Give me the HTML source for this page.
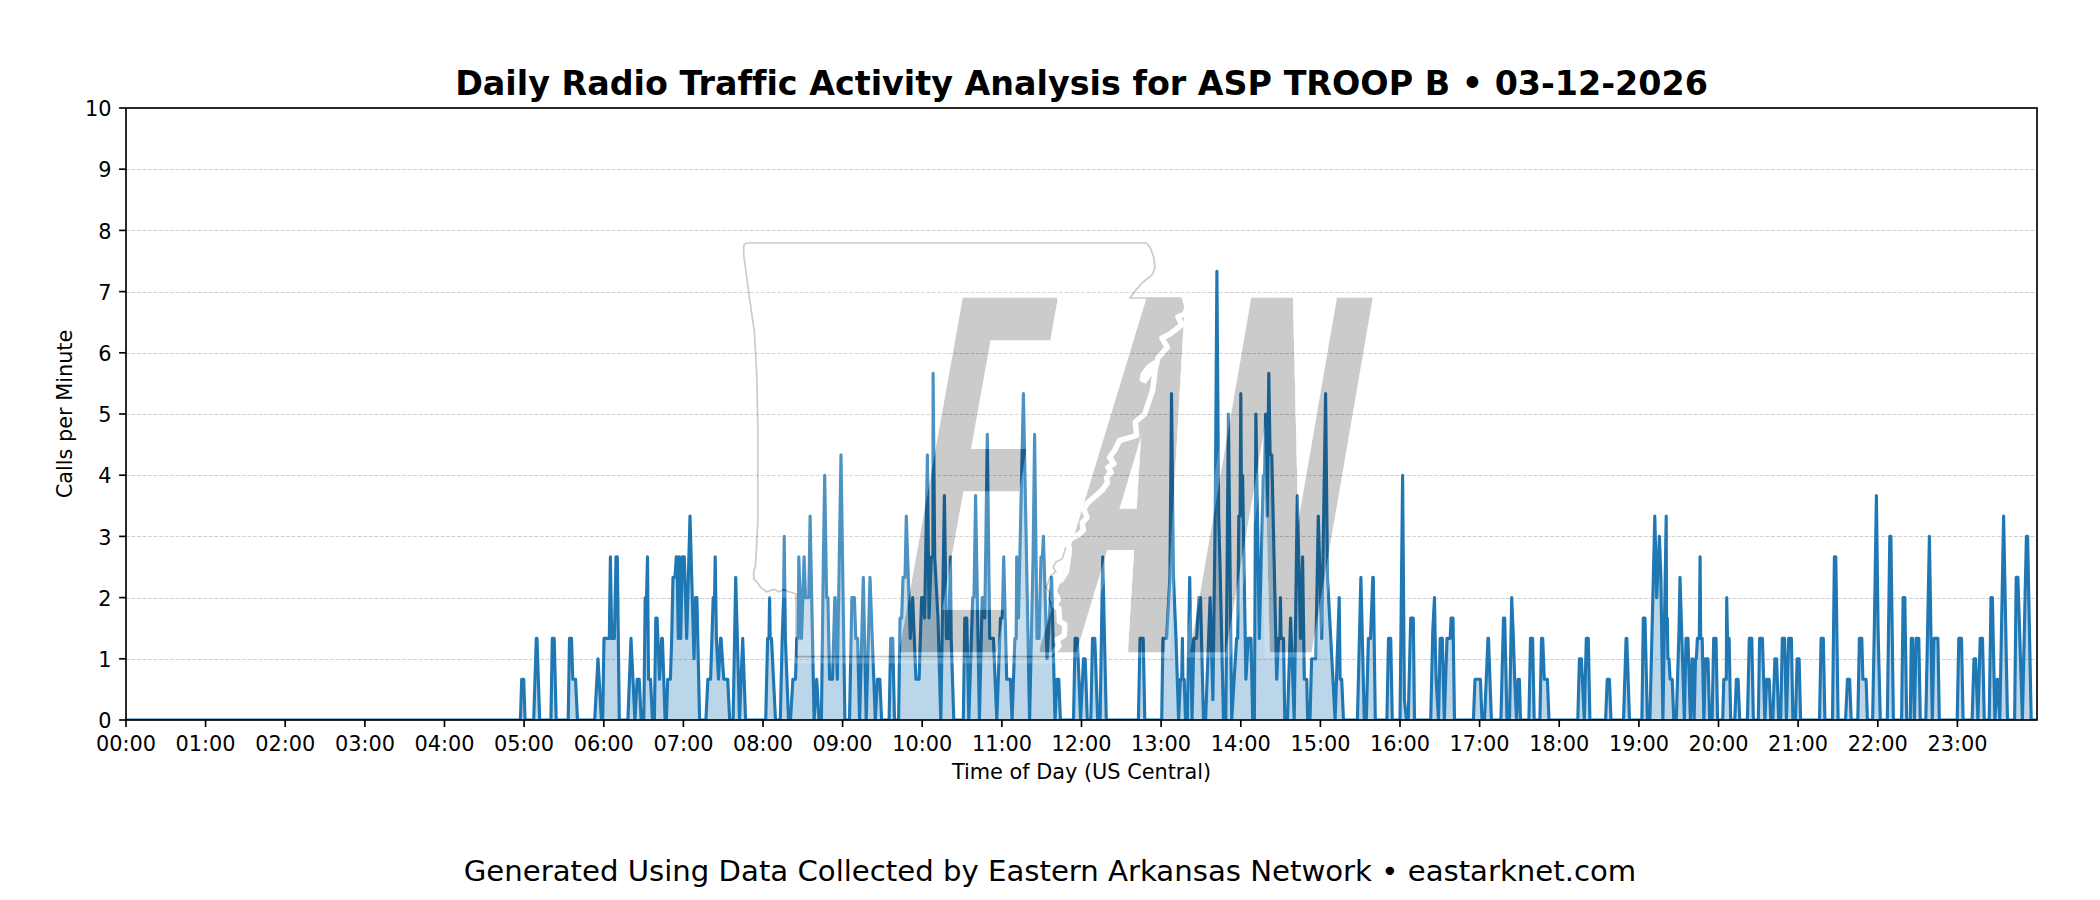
<!DOCTYPE html>
<html lang="en"><head><meta charset="utf-8"><title>Daily Radio Traffic Activity Analysis</title>
<style>
html,body{margin:0;padding:0;background:#fff}
body{width:2100px;height:900px;overflow:hidden}
svg{display:block}
text{font-variant-ligatures:none;font-family:"DejaVu Sans","Liberation Sans",sans-serif;fill:#000}
.tk text{font-size:20.83px}
</style></head><body>
<svg width="2100" height="900" viewBox="0 0 2100 900">
<rect width="2100" height="900" fill="#fff"/>
<g stroke="#b0b0b0" stroke-width="1.04" stroke-dasharray="3.85 1.67" opacity="0.6" fill="none"><line x1="126" x2="2037" y1="659.5" y2="659.5"/><line x1="126" x2="2037" y1="598.5" y2="598.5"/><line x1="126" x2="2037" y1="536.5" y2="536.5"/><line x1="126" x2="2037" y1="475.5" y2="475.5"/><line x1="126" x2="2037" y1="414.5" y2="414.5"/><line x1="126" x2="2037" y1="353.5" y2="353.5"/><line x1="126" x2="2037" y1="292.5" y2="292.5"/><line x1="126" x2="2037" y1="230.5" y2="230.5"/><line x1="126" x2="2037" y1="169.5" y2="169.5"/></g>
<clipPath id="ax"><rect x="126" y="108" width="1911" height="612"/></clipPath>
<g clip-path="url(#ax)">
<polygon points="126.0,720.0 126.0,720.0 520.4,720.0 521.7,679.2 523.7,679.2 525.1,720.0 533.7,720.0 536.3,638.4 537.0,638.4 539.7,720.0 550.9,720.0 552.3,638.4 554.2,638.4 556.2,720.0 568.2,720.0 569.5,638.4 571.5,638.4 572.8,679.2 575.5,679.2 577.5,720.0 594.7,720.0 598.0,658.8 601.4,720.0 602.7,720.0 604.0,638.4 609.3,638.4 610.4,556.8 611.7,638.4 614.4,638.4 616.0,556.8 617.3,556.8 619.3,720.0 627.9,720.0 631.0,638.4 634.9,720.0 637.2,679.2 639.2,679.2 641.2,720.0 643.8,720.0 645.2,597.6 646.5,597.6 647.5,556.8 648.5,679.2 650.5,679.2 652.5,720.0 654.4,720.0 655.8,618.0 657.1,618.0 659.5,679.2 661.7,638.4 662.4,638.4 665.1,720.0 666.4,720.0 667.7,679.2 670.4,679.2 671.7,638.4 673.0,577.2 675.0,577.2 676.3,556.8 677.0,556.8 678.3,638.4 679.4,556.8 680.7,638.4 682.3,556.8 684.3,556.8 686.7,638.4 690.0,516.0 694.0,658.8 695.6,597.6 696.9,597.6 699.6,720.0 705.9,720.0 707.9,679.2 710.6,679.2 711.9,638.4 713.2,597.6 714.6,597.6 715.2,556.8 716.4,638.4 718.5,679.2 720.5,638.4 721.1,638.4 723.7,679.2 727.7,679.2 729.7,720.0 733.1,720.0 735.7,577.2 735.7,577.2 739.5,720.0 742.7,638.4 742.7,638.4 745.6,720.0 765.7,720.0 767.6,638.4 769.0,638.4 769.6,597.6 770.2,638.4 771.5,638.4 775.5,720.0 780.3,720.0 782.2,638.4 783.6,597.6 784.2,536.4 785.4,638.4 788.5,720.0 790.5,720.0 792.9,679.2 795.5,679.2 796.8,638.4 798.2,638.4 798.8,556.8 801.5,638.4 804.1,556.8 805.5,597.6 808.8,597.6 810.1,516.0 814.1,720.0 816.7,679.2 816.7,679.2 819.0,720.0 821.4,720.0 823.4,556.8 824.7,475.2 826.6,597.6 827.9,597.6 829.6,679.2 832.5,679.2 834.8,597.6 835.2,597.6 837.3,679.2 841.0,454.8 844.9,720.0 849.5,720.0 851.9,597.6 854.4,597.6 855.8,638.4 857.6,638.4 859.6,720.0 863.3,577.2 866.2,720.0 870.0,577.2 875.3,720.0 877.5,679.2 879.8,679.2 881.6,720.0 889.1,720.0 890.7,638.4 892.7,638.4 894.5,720.0 898.6,720.0 900.0,618.0 901.7,618.0 903.0,577.2 905.0,577.2 906.3,516.0 910.3,638.4 912.7,597.6 915.9,679.2 919.1,679.2 921.6,597.6 922.5,597.6 924.6,618.0 927.4,454.8 929.0,618.0 931.3,556.8 932.9,556.8 933.1,373.2 934.7,556.8 938.0,618.0 940.8,720.0 944.4,495.6 946.4,638.4 948.8,638.4 950.4,556.8 951.2,638.4 953.8,720.0 963.3,720.0 964.8,618.0 966.8,618.0 968.8,720.0 972.7,597.6 974.0,597.6 975.6,495.6 979.4,720.0 982.2,597.6 982.9,597.6 984.8,618.0 987.3,434.4 989.7,638.4 993.4,638.4 996.8,720.0 1000.5,618.0 1002.3,618.0 1003.7,556.8 1006.7,679.2 1010.4,679.2 1012.1,720.0 1014.9,638.4 1016.2,638.4 1016.7,556.8 1018.5,618.0 1023.4,393.6 1029.6,720.0 1033.1,556.8 1034.6,434.4 1034.6,434.4 1037.0,638.4 1039.0,638.4 1041.0,556.8 1042.4,556.8 1043.4,536.4 1047.0,658.8 1051.6,577.2 1051.6,577.2 1055.0,720.0 1057.1,679.2 1058.8,679.2 1060.4,720.0 1073.5,720.0 1075.1,638.4 1077.3,638.4 1080.6,720.0 1083.5,658.8 1085.2,658.8 1087.3,720.0 1090.8,720.0 1092.5,638.4 1094.8,638.4 1097.7,720.0 1100.1,720.0 1102.7,556.8 1106.3,720.0 1138.4,720.0 1140.0,638.4 1143.2,638.4 1144.8,720.0 1161.7,720.0 1162.9,638.4 1166.6,638.4 1169.9,577.2 1171.5,393.6 1173.5,577.2 1176.0,638.4 1178.6,720.0 1180.4,679.2 1181.7,679.2 1182.4,638.4 1182.9,679.2 1184.2,679.2 1185.5,720.0 1187.4,720.0 1189.7,577.2 1192.0,720.0 1193.9,638.4 1196.6,638.4 1198.9,597.6 1200.5,597.6 1203.5,720.0 1205.6,720.0 1210.1,597.6 1212.9,699.6 1215.3,505.8 1216.9,271.2 1218.7,516.0 1220.3,577.2 1223.5,720.0 1225.8,720.0 1228.4,414.0 1231.7,720.0 1236.6,638.4 1237.7,638.4 1238.8,516.0 1240.1,516.0 1240.8,393.6 1241.3,475.2 1242.6,475.2 1245.9,679.2 1248.3,638.4 1251.0,638.4 1252.7,720.0 1254.4,720.0 1255.9,414.0 1255.9,414.0 1259.3,638.4 1263.3,475.2 1264.6,475.2 1265.6,414.0 1267.2,516.0 1268.8,373.2 1270.1,454.8 1271.8,454.8 1276.7,679.2 1278.6,638.4 1279.9,638.4 1280.4,597.6 1281.1,638.4 1283.5,638.4 1284.8,720.0 1287.5,720.0 1290.6,618.0 1294.2,720.0 1297.3,495.6 1300.5,638.4 1302.6,556.8 1304.3,679.2 1306.8,679.2 1307.6,720.0 1310.0,720.0 1311.6,658.8 1315.7,658.8 1318.3,516.0 1318.3,516.0 1321.7,638.4 1325.6,393.6 1327.5,577.2 1335.1,720.0 1339.2,597.6 1340.1,679.2 1341.7,679.2 1343.5,720.0 1357.4,720.0 1360.9,577.2 1364.3,720.0 1366.3,720.0 1368.4,638.4 1370.5,638.4 1372.8,577.2 1373.3,577.2 1375.3,720.0 1386.9,720.0 1388.5,638.4 1390.7,638.4 1392.3,720.0 1400.0,720.0 1402.6,475.2 1402.6,475.2 1404.4,699.6 1406.5,720.0 1408.2,720.0 1410.7,618.0 1413.3,618.0 1414.5,720.0 1430.7,720.0 1432.8,630.2 1434.5,597.6 1435.0,630.2 1436.1,679.2 1438.5,720.0 1440.2,638.4 1442.3,638.4 1444.3,720.0 1447.0,638.4 1450.2,638.4 1451.1,618.0 1453.0,618.0 1454.5,720.0 1473.4,720.0 1475.0,679.2 1480.4,679.2 1482.0,720.0 1484.5,720.0 1488.0,638.4 1488.5,638.4 1491.4,720.0 1500.9,720.0 1503.5,618.0 1504.7,618.0 1507.0,720.0 1509.5,720.0 1511.7,597.6 1513.1,630.2 1514.7,679.2 1516.5,720.0 1518.1,679.2 1519.4,679.2 1520.5,720.0 1528.9,720.0 1530.5,638.4 1532.6,638.4 1534.2,720.0 1539.9,720.0 1541.5,638.4 1542.7,638.4 1544.3,679.2 1547.4,679.2 1549.0,720.0 1577.8,720.0 1579.4,658.8 1581.4,658.8 1584.3,720.0 1586.3,638.4 1588.3,638.4 1589.9,720.0 1605.6,720.0 1607.2,679.2 1609.4,679.2 1611.0,720.0 1623.5,720.0 1626.1,638.4 1626.8,638.4 1629.5,720.0 1641.9,720.0 1643.3,618.0 1645.0,618.0 1647.4,720.0 1649.9,720.0 1654.8,516.0 1656.7,597.6 1659.4,536.4 1659.4,536.4 1660.9,577.2 1662.9,720.0 1666.2,516.0 1666.5,618.0 1667.3,618.0 1667.9,658.8 1669.0,658.8 1670.1,679.2 1672.2,679.2 1673.8,720.0 1676.3,720.0 1679.0,630.2 1680.0,577.2 1684.4,720.0 1686.0,638.4 1688.0,638.4 1690.4,720.0 1692.1,658.8 1692.5,658.8 1694.1,720.0 1695.5,658.8 1696.3,658.8 1697.4,638.4 1699.3,638.4 1700.1,556.8 1700.7,638.4 1702.2,638.4 1703.9,720.0 1705.4,658.8 1708.0,658.8 1709.6,720.0 1712.1,720.0 1713.7,638.4 1716.0,638.4 1717.6,720.0 1722.7,720.0 1723.8,679.2 1726.3,679.2 1726.7,597.6 1727.5,638.4 1729.1,638.4 1730.7,720.0 1734.8,720.0 1736.4,679.2 1738.1,679.2 1739.7,720.0 1747.4,720.0 1749.3,638.4 1751.8,638.4 1753.4,720.0 1758.3,720.0 1759.6,638.4 1762.4,638.4 1764.9,720.0 1766.7,679.2 1769.2,679.2 1770.8,720.0 1772.8,720.0 1774.9,658.8 1776.6,658.8 1778.7,720.0 1780.7,720.0 1782.3,638.4 1784.6,638.4 1786.4,720.0 1788.7,638.4 1791.4,638.4 1792.9,720.0 1795.5,720.0 1797.1,658.8 1799.1,658.8 1800.6,720.0 1819.5,720.0 1821.1,638.4 1823.3,638.4 1824.9,720.0 1832.5,720.0 1834.4,556.8 1835.8,556.8 1838.1,720.0 1845.5,720.0 1847.5,679.2 1849.6,679.2 1851.2,720.0 1857.8,720.0 1859.4,638.4 1861.8,638.4 1862.9,679.2 1866.1,679.2 1867.4,720.0 1872.6,720.0 1874.3,630.2 1876.4,495.6 1878.1,630.2 1880.3,720.0 1887.3,720.0 1889.8,536.4 1890.9,536.4 1893.4,720.0 1901.6,720.0 1903.1,597.6 1904.8,597.6 1906.7,720.0 1910.3,720.0 1911.3,638.4 1912.5,638.4 1914.4,720.0 1916.1,638.4 1918.8,638.4 1920.3,720.0 1925.8,720.0 1927.6,630.2 1929.4,536.4 1932.3,720.0 1934.0,638.4 1937.9,638.4 1939.3,720.0 1957.2,720.0 1958.8,638.4 1961.5,638.4 1963.1,720.0 1972.1,720.0 1974.0,658.8 1975.6,658.8 1977.9,720.0 1980.2,638.4 1982.5,638.4 1984.3,720.0 1989.2,720.0 1991.0,597.6 1992.4,597.6 1994.9,720.0 1997.2,679.2 1997.5,679.2 1999.8,720.0 2003.6,516.0 2007.5,720.0 2014.6,720.0 2016.2,577.2 2017.9,577.2 2022.4,720.0 2026.4,536.4 2027.6,536.4 2031.2,720.0 2035.7,720.0 2035.7,720.0" fill="#1f77b4" fill-opacity="0.3" stroke="none"/>
<polyline points="126.0,720.0 520.4,720.0 521.7,679.2 523.7,679.2 525.1,720.0 533.7,720.0 536.3,638.4 537.0,638.4 539.7,720.0 550.9,720.0 552.3,638.4 554.2,638.4 556.2,720.0 568.2,720.0 569.5,638.4 571.5,638.4 572.8,679.2 575.5,679.2 577.5,720.0 594.7,720.0 598.0,658.8 601.4,720.0 602.7,720.0 604.0,638.4 609.3,638.4 610.4,556.8 611.7,638.4 614.4,638.4 616.0,556.8 617.3,556.8 619.3,720.0 627.9,720.0 631.0,638.4 634.9,720.0 637.2,679.2 639.2,679.2 641.2,720.0 643.8,720.0 645.2,597.6 646.5,597.6 647.5,556.8 648.5,679.2 650.5,679.2 652.5,720.0 654.4,720.0 655.8,618.0 657.1,618.0 659.5,679.2 661.7,638.4 662.4,638.4 665.1,720.0 666.4,720.0 667.7,679.2 670.4,679.2 671.7,638.4 673.0,577.2 675.0,577.2 676.3,556.8 677.0,556.8 678.3,638.4 679.4,556.8 680.7,638.4 682.3,556.8 684.3,556.8 686.7,638.4 690.0,516.0 694.0,658.8 695.6,597.6 696.9,597.6 699.6,720.0 705.9,720.0 707.9,679.2 710.6,679.2 711.9,638.4 713.2,597.6 714.6,597.6 715.2,556.8 716.4,638.4 718.5,679.2 720.5,638.4 721.1,638.4 723.7,679.2 727.7,679.2 729.7,720.0 733.1,720.0 735.7,577.2 735.7,577.2 739.5,720.0 742.7,638.4 742.7,638.4 745.6,720.0 765.7,720.0 767.6,638.4 769.0,638.4 769.6,597.6 770.2,638.4 771.5,638.4 775.5,720.0 780.3,720.0 782.2,638.4 783.6,597.6 784.2,536.4 785.4,638.4 788.5,720.0 790.5,720.0 792.9,679.2 795.5,679.2 796.8,638.4 798.2,638.4 798.8,556.8 801.5,638.4 804.1,556.8 805.5,597.6 808.8,597.6 810.1,516.0 814.1,720.0 816.7,679.2 816.7,679.2 819.0,720.0 821.4,720.0 823.4,556.8 824.7,475.2 826.6,597.6 827.9,597.6 829.6,679.2 832.5,679.2 834.8,597.6 835.2,597.6 837.3,679.2 841.0,454.8 844.9,720.0 849.5,720.0 851.9,597.6 854.4,597.6 855.8,638.4 857.6,638.4 859.6,720.0 863.3,577.2 866.2,720.0 870.0,577.2 875.3,720.0 877.5,679.2 879.8,679.2 881.6,720.0 889.1,720.0 890.7,638.4 892.7,638.4 894.5,720.0 898.6,720.0 900.0,618.0 901.7,618.0 903.0,577.2 905.0,577.2 906.3,516.0 910.3,638.4 912.7,597.6 915.9,679.2 919.1,679.2 921.6,597.6 922.5,597.6 924.6,618.0 927.4,454.8 929.0,618.0 931.3,556.8 932.9,556.8 933.1,373.2 934.7,556.8 938.0,618.0 940.8,720.0 944.4,495.6 946.4,638.4 948.8,638.4 950.4,556.8 951.2,638.4 953.8,720.0 963.3,720.0 964.8,618.0 966.8,618.0 968.8,720.0 972.7,597.6 974.0,597.6 975.6,495.6 979.4,720.0 982.2,597.6 982.9,597.6 984.8,618.0 987.3,434.4 989.7,638.4 993.4,638.4 996.8,720.0 1000.5,618.0 1002.3,618.0 1003.7,556.8 1006.7,679.2 1010.4,679.2 1012.1,720.0 1014.9,638.4 1016.2,638.4 1016.7,556.8 1018.5,618.0 1023.4,393.6 1029.6,720.0 1033.1,556.8 1034.6,434.4 1034.6,434.4 1037.0,638.4 1039.0,638.4 1041.0,556.8 1042.4,556.8 1043.4,536.4 1047.0,658.8 1051.6,577.2 1051.6,577.2 1055.0,720.0 1057.1,679.2 1058.8,679.2 1060.4,720.0 1073.5,720.0 1075.1,638.4 1077.3,638.4 1080.6,720.0 1083.5,658.8 1085.2,658.8 1087.3,720.0 1090.8,720.0 1092.5,638.4 1094.8,638.4 1097.7,720.0 1100.1,720.0 1102.7,556.8 1106.3,720.0 1138.4,720.0 1140.0,638.4 1143.2,638.4 1144.8,720.0 1161.7,720.0 1162.9,638.4 1166.6,638.4 1169.9,577.2 1171.5,393.6 1173.5,577.2 1176.0,638.4 1178.6,720.0 1180.4,679.2 1181.7,679.2 1182.4,638.4 1182.9,679.2 1184.2,679.2 1185.5,720.0 1187.4,720.0 1189.7,577.2 1192.0,720.0 1193.9,638.4 1196.6,638.4 1198.9,597.6 1200.5,597.6 1203.5,720.0 1205.6,720.0 1210.1,597.6 1212.9,699.6 1215.3,505.8 1216.9,271.2 1218.7,516.0 1220.3,577.2 1223.5,720.0 1225.8,720.0 1228.4,414.0 1231.7,720.0 1236.6,638.4 1237.7,638.4 1238.8,516.0 1240.1,516.0 1240.8,393.6 1241.3,475.2 1242.6,475.2 1245.9,679.2 1248.3,638.4 1251.0,638.4 1252.7,720.0 1254.4,720.0 1255.9,414.0 1255.9,414.0 1259.3,638.4 1263.3,475.2 1264.6,475.2 1265.6,414.0 1267.2,516.0 1268.8,373.2 1270.1,454.8 1271.8,454.8 1276.7,679.2 1278.6,638.4 1279.9,638.4 1280.4,597.6 1281.1,638.4 1283.5,638.4 1284.8,720.0 1287.5,720.0 1290.6,618.0 1294.2,720.0 1297.3,495.6 1300.5,638.4 1302.6,556.8 1304.3,679.2 1306.8,679.2 1307.6,720.0 1310.0,720.0 1311.6,658.8 1315.7,658.8 1318.3,516.0 1318.3,516.0 1321.7,638.4 1325.6,393.6 1327.5,577.2 1335.1,720.0 1339.2,597.6 1340.1,679.2 1341.7,679.2 1343.5,720.0 1357.4,720.0 1360.9,577.2 1364.3,720.0 1366.3,720.0 1368.4,638.4 1370.5,638.4 1372.8,577.2 1373.3,577.2 1375.3,720.0 1386.9,720.0 1388.5,638.4 1390.7,638.4 1392.3,720.0 1400.0,720.0 1402.6,475.2 1402.6,475.2 1404.4,699.6 1406.5,720.0 1408.2,720.0 1410.7,618.0 1413.3,618.0 1414.5,720.0 1430.7,720.0 1432.8,630.2 1434.5,597.6 1435.0,630.2 1436.1,679.2 1438.5,720.0 1440.2,638.4 1442.3,638.4 1444.3,720.0 1447.0,638.4 1450.2,638.4 1451.1,618.0 1453.0,618.0 1454.5,720.0 1473.4,720.0 1475.0,679.2 1480.4,679.2 1482.0,720.0 1484.5,720.0 1488.0,638.4 1488.5,638.4 1491.4,720.0 1500.9,720.0 1503.5,618.0 1504.7,618.0 1507.0,720.0 1509.5,720.0 1511.7,597.6 1513.1,630.2 1514.7,679.2 1516.5,720.0 1518.1,679.2 1519.4,679.2 1520.5,720.0 1528.9,720.0 1530.5,638.4 1532.6,638.4 1534.2,720.0 1539.9,720.0 1541.5,638.4 1542.7,638.4 1544.3,679.2 1547.4,679.2 1549.0,720.0 1577.8,720.0 1579.4,658.8 1581.4,658.8 1584.3,720.0 1586.3,638.4 1588.3,638.4 1589.9,720.0 1605.6,720.0 1607.2,679.2 1609.4,679.2 1611.0,720.0 1623.5,720.0 1626.1,638.4 1626.8,638.4 1629.5,720.0 1641.9,720.0 1643.3,618.0 1645.0,618.0 1647.4,720.0 1649.9,720.0 1654.8,516.0 1656.7,597.6 1659.4,536.4 1659.4,536.4 1660.9,577.2 1662.9,720.0 1666.2,516.0 1666.5,618.0 1667.3,618.0 1667.9,658.8 1669.0,658.8 1670.1,679.2 1672.2,679.2 1673.8,720.0 1676.3,720.0 1679.0,630.2 1680.0,577.2 1684.4,720.0 1686.0,638.4 1688.0,638.4 1690.4,720.0 1692.1,658.8 1692.5,658.8 1694.1,720.0 1695.5,658.8 1696.3,658.8 1697.4,638.4 1699.3,638.4 1700.1,556.8 1700.7,638.4 1702.2,638.4 1703.9,720.0 1705.4,658.8 1708.0,658.8 1709.6,720.0 1712.1,720.0 1713.7,638.4 1716.0,638.4 1717.6,720.0 1722.7,720.0 1723.8,679.2 1726.3,679.2 1726.7,597.6 1727.5,638.4 1729.1,638.4 1730.7,720.0 1734.8,720.0 1736.4,679.2 1738.1,679.2 1739.7,720.0 1747.4,720.0 1749.3,638.4 1751.8,638.4 1753.4,720.0 1758.3,720.0 1759.6,638.4 1762.4,638.4 1764.9,720.0 1766.7,679.2 1769.2,679.2 1770.8,720.0 1772.8,720.0 1774.9,658.8 1776.6,658.8 1778.7,720.0 1780.7,720.0 1782.3,638.4 1784.6,638.4 1786.4,720.0 1788.7,638.4 1791.4,638.4 1792.9,720.0 1795.5,720.0 1797.1,658.8 1799.1,658.8 1800.6,720.0 1819.5,720.0 1821.1,638.4 1823.3,638.4 1824.9,720.0 1832.5,720.0 1834.4,556.8 1835.8,556.8 1838.1,720.0 1845.5,720.0 1847.5,679.2 1849.6,679.2 1851.2,720.0 1857.8,720.0 1859.4,638.4 1861.8,638.4 1862.9,679.2 1866.1,679.2 1867.4,720.0 1872.6,720.0 1874.3,630.2 1876.4,495.6 1878.1,630.2 1880.3,720.0 1887.3,720.0 1889.8,536.4 1890.9,536.4 1893.4,720.0 1901.6,720.0 1903.1,597.6 1904.8,597.6 1906.7,720.0 1910.3,720.0 1911.3,638.4 1912.5,638.4 1914.4,720.0 1916.1,638.4 1918.8,638.4 1920.3,720.0 1925.8,720.0 1927.6,630.2 1929.4,536.4 1932.3,720.0 1934.0,638.4 1937.9,638.4 1939.3,720.0 1957.2,720.0 1958.8,638.4 1961.5,638.4 1963.1,720.0 1972.1,720.0 1974.0,658.8 1975.6,658.8 1977.9,720.0 1980.2,638.4 1982.5,638.4 1984.3,720.0 1989.2,720.0 1991.0,597.6 1992.4,597.6 1994.9,720.0 1997.2,679.2 1997.5,679.2 1999.8,720.0 2003.6,516.0 2007.5,720.0 2014.6,720.0 2016.2,577.2 2017.9,577.2 2022.4,720.0 2026.4,536.4 2027.6,536.4 2031.2,720.0 2035.7,720.0" fill="none" stroke="#1f77b4" stroke-width="3.125" stroke-linejoin="round" stroke-linecap="butt"/>
</g>
<filter id="fatN" filterUnits="userSpaceOnUse" x="1150" y="270" width="260" height="410"><feMorphology in="SourceAlpha" operator="dilate" radius="2.3 0" result="fat"/><feMorphology in="fat" operator="dilate" radius="5 5" result="halo"/><feFlood flood-color="#fff"/><feComposite in2="halo" operator="in" result="wh"/><feFlood flood-color="#000"/><feComposite in2="fat" operator="in" result="bk"/><feMerge><feMergeNode in="wh"/><feMergeNode in="bk"/></feMerge></filter>
<filter id="fat" filterUnits="userSpaceOnUse" x="850" y="270" width="560" height="410"><feMorphology in="SourceAlpha" operator="dilate" radius="11 2" result="fat"/><feMorphology in="fat" operator="dilate" radius="5 5" result="halo"/><feFlood flood-color="#fff"/><feComposite in2="halo" operator="in" result="wh"/><feFlood flood-color="#000"/><feComposite in2="fat" operator="in" result="bk"/><feMerge><feMergeNode in="wh"/><feMergeNode in="bk"/></feMerge></filter>
<g opacity="0.2">
<defs><path id="ark" d="M748,243 L1146,243 L1150,247 L1154,258 L1155,268 L1152,275 L1143,282 L1136,290 L1130,298 L1180,298 L1186.7,310 L1181.7,320 L1166.7,335 L1161.7,353 L1146.7,366.7 L1143.3,380 L1151.7,386.7 L1145,406.7 L1133.3,420 L1136.7,433.3 L1118.3,441.7 L1114.9,450 L1109.6,457.4 L1113.9,463.7 L1108,467.4 L1111.2,472.2 L1106.5,477.4 L1107.5,482.7 L1102.3,490.1 L1087.5,502.8 L1083.8,509.1 L1087,517.5 L1082.2,522.8 L1083.3,530.2 L1079,534.4 L1073.2,537.6 L1065.3,540.8 L1066.4,545.3 L1062.2,559 L1055.8,562.2 L1053.2,567.4 L1055.8,571.7 L1050.5,575.9 L1046.3,587.5 L1049.5,592.8 L1049,599.1 L1050.5,603.3 L1053,612 L1050,622 L1055,632 L1052,642 L1054.8,651 L1053,656.6 L796,656.6 L796,593.8 L789.1,591.7 L783.8,589.6 L778.5,591.7 L774.3,589.1 L766.9,591.7 L760.6,587.5 L757.4,582.2 L753.7,579 L753.7,571.7 L755.4,566.6 L757.8,523 L757.8,425 L756.8,376 L754.4,332 L749.5,298 L745.2,266 L743.9,256 L743.7,247 Q743.7,243 748,243 Z"/></defs>
<use href="#ark" fill="#fff" stroke="#fff" stroke-width="14" stroke-linejoin="round"/>
<g filter="url(#fat)">
<text transform="translate(899.1,650.6) skewX(-10.2) scale(1,5.103)" style="font-family:'Liberation Sans',sans-serif;font-size:100px;fill:#000"><tspan x="0" textLength="92.9" lengthAdjust="spacingAndGlyphs">E</tspan><tspan x="151.1" textLength="104" lengthAdjust="spacingAndGlyphs">A</tspan></text></g><g filter="url(#fatN)"><text transform="translate(1175.2,652.6) skewX(-9.8) scale(1,4.871)" style="font-family:'DejaVu Sans',sans-serif;font-weight:bold;font-size:100px;fill:#000" textLength="151" lengthAdjust="spacingAndGlyphs">N</text></g>
<use href="#ark" fill="none" stroke="#000" stroke-width="1.7"/>
<path d="M1184.7,298.8 L1187.3,307.3 L1184.7,314 L1178,316.7 L1182,324.7 L1170,334 L1162,338 L1167.3,347.3 L1158,358 L1155.3,368.7 L1152.7,390 L1144.7,414 L1135.3,422 L1136.7,435.3 L1119.3,440.7 L1114.9,450 L1109.6,457.4 L1113.9,463.7 L1108,467.4 L1111.2,472.2 L1106.5,477.4 L1107.5,482.7 L1102.3,490.1 L1087.5,502.8 L1083.8,509.1 L1087,517.5 L1082.2,522.8 L1083.3,530.2 L1079,534.4 L1073.2,537.6 L1065.3,540.8 L1069.5,548.4 L1068,561.1 L1066.4,571.7 L1061.1,580.1 L1056.9,582.2 L1053.7,590.7 L1058.5,599.1 L1054.2,605.4 L1059,608.6 L1059.5,621.3 L1064.8,624.4 L1064.3,635 L1063.2,636.3 L1056.9,639.5 L1059,645.8 L1054.8,651.1" fill="none" stroke="#fff" stroke-width="5.5" stroke-linejoin="round" stroke-linecap="round"/>
<path d="M1154,362 L1148,366 L1142,374 L1141,380 L1145,382 L1151,374 Z" fill="#fff" stroke="#fff" stroke-width="3" stroke-linejoin="round"/>
</g>

<rect x="126" y="108" width="1911" height="612" fill="none" stroke="#000" stroke-width="1.67"/>
<g stroke="#000" stroke-width="1.67"><line x1="119.1" x2="126" y1="720.0" y2="720.0"/><line x1="119.1" x2="126" y1="658.8" y2="658.8"/><line x1="119.1" x2="126" y1="597.6" y2="597.6"/><line x1="119.1" x2="126" y1="536.4" y2="536.4"/><line x1="119.1" x2="126" y1="475.2" y2="475.2"/><line x1="119.1" x2="126" y1="414.0" y2="414.0"/><line x1="119.1" x2="126" y1="352.8" y2="352.8"/><line x1="119.1" x2="126" y1="291.6" y2="291.6"/><line x1="119.1" x2="126" y1="230.4" y2="230.4"/><line x1="119.1" x2="126" y1="169.2" y2="169.2"/><line x1="119.1" x2="126" y1="108.0" y2="108.0"/><line x1="126.0" x2="126.0" y1="720" y2="727"/><line x1="205.6" x2="205.6" y1="720" y2="727"/><line x1="285.2" x2="285.2" y1="720" y2="727"/><line x1="364.9" x2="364.9" y1="720" y2="727"/><line x1="444.5" x2="444.5" y1="720" y2="727"/><line x1="524.1" x2="524.1" y1="720" y2="727"/><line x1="603.8" x2="603.8" y1="720" y2="727"/><line x1="683.4" x2="683.4" y1="720" y2="727"/><line x1="763.0" x2="763.0" y1="720" y2="727"/><line x1="842.6" x2="842.6" y1="720" y2="727"/><line x1="922.2" x2="922.2" y1="720" y2="727"/><line x1="1001.9" x2="1001.9" y1="720" y2="727"/><line x1="1081.5" x2="1081.5" y1="720" y2="727"/><line x1="1161.1" x2="1161.1" y1="720" y2="727"/><line x1="1240.8" x2="1240.8" y1="720" y2="727"/><line x1="1320.4" x2="1320.4" y1="720" y2="727"/><line x1="1400.0" x2="1400.0" y1="720" y2="727"/><line x1="1479.6" x2="1479.6" y1="720" y2="727"/><line x1="1559.2" x2="1559.2" y1="720" y2="727"/><line x1="1638.9" x2="1638.9" y1="720" y2="727"/><line x1="1718.5" x2="1718.5" y1="720" y2="727"/><line x1="1798.1" x2="1798.1" y1="720" y2="727"/><line x1="1877.8" x2="1877.8" y1="720" y2="727"/><line x1="1957.4" x2="1957.4" y1="720" y2="727"/></g>
<g class="tk"><text x="111.6" y="728.1" text-anchor="end">0</text><text x="111.6" y="666.9" text-anchor="end">1</text><text x="111.6" y="605.7" text-anchor="end">2</text><text x="111.6" y="544.5" text-anchor="end">3</text><text x="111.6" y="483.3" text-anchor="end">4</text><text x="111.6" y="422.1" text-anchor="end">5</text><text x="111.6" y="360.9" text-anchor="end">6</text><text x="111.6" y="299.7" text-anchor="end">7</text><text x="111.6" y="238.5" text-anchor="end">8</text><text x="111.6" y="177.3" text-anchor="end">9</text><text x="111.6" y="116.1" text-anchor="end">10</text><text x="126.0" y="750.8" text-anchor="middle">00:00</text><text x="205.6" y="750.8" text-anchor="middle">01:00</text><text x="285.2" y="750.8" text-anchor="middle">02:00</text><text x="364.9" y="750.8" text-anchor="middle">03:00</text><text x="444.5" y="750.8" text-anchor="middle">04:00</text><text x="524.1" y="750.8" text-anchor="middle">05:00</text><text x="603.8" y="750.8" text-anchor="middle">06:00</text><text x="683.4" y="750.8" text-anchor="middle">07:00</text><text x="763.0" y="750.8" text-anchor="middle">08:00</text><text x="842.6" y="750.8" text-anchor="middle">09:00</text><text x="922.2" y="750.8" text-anchor="middle">10:00</text><text x="1001.9" y="750.8" text-anchor="middle">11:00</text><text x="1081.5" y="750.8" text-anchor="middle">12:00</text><text x="1161.1" y="750.8" text-anchor="middle">13:00</text><text x="1240.8" y="750.8" text-anchor="middle">14:00</text><text x="1320.4" y="750.8" text-anchor="middle">15:00</text><text x="1400.0" y="750.8" text-anchor="middle">16:00</text><text x="1479.6" y="750.8" text-anchor="middle">17:00</text><text x="1559.2" y="750.8" text-anchor="middle">18:00</text><text x="1638.9" y="750.8" text-anchor="middle">19:00</text><text x="1718.5" y="750.8" text-anchor="middle">20:00</text><text x="1798.1" y="750.8" text-anchor="middle">21:00</text><text x="1877.8" y="750.8" text-anchor="middle">22:00</text><text x="1957.4" y="750.8" text-anchor="middle">23:00</text></g>
<text x="1081.5" y="778.6" text-anchor="middle" font-size="20.83">Time of Day (US Central)</text>
<text transform="translate(72,414) rotate(-90)" text-anchor="middle" font-size="20.83">Calls per Minute</text>
<text x="1081.5" y="95" text-anchor="middle" font-size="33.33" font-weight="bold">Daily Radio Traffic Activity Analysis for ASP TROOP B • 03-12-2026</text>
<text x="1050" y="881" text-anchor="middle" font-size="29.17">Generated Using Data Collected by Eastern Arkansas Network • eastarknet.com</text>
</svg>
</body></html>
